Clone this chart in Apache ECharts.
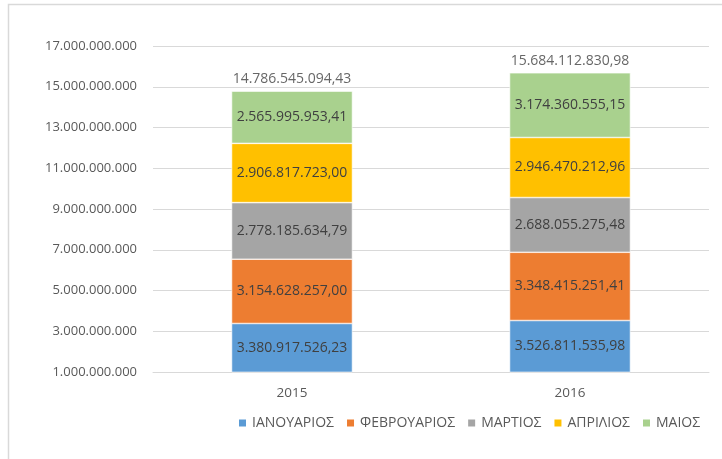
<!DOCTYPE html>
<html>
<head>
<meta charset="utf-8">
<script src="https://cdn.jsdelivr.net/npm/echarts@6/dist/echarts.min.js"></script>
<style>
    html, body { margin: 0; padding: 0; background: #fff; }
    #main { width: 722px; height: 459px; }
</style>
</head>
<body>
<div id="main"></div>
<script>
// δεδομένα
const years = ['2015', '2016']
const months = ['ΙΑΝΟΥΑΡΙΟΣ', 'ΦΕΒΡΟΥΑΡΙΟΣ', 'ΜΑΡΤΙΟΣ', 'ΑΠΡΙΛΙΟΣ', 'ΜΑΙΟΣ']
const ianouarios = [3380917526.23, 3526811535.98]
const fevrouarios = [3154628257.00, 3348415251.41]
const martios = [2778185634.79, 2688055275.48]
const aprilios = [2906817723.00, 2946470212.96]
const maios = [2565995953.41, 3174360555.15]
const colors = ['#5B9BD5', '#ED7D31', '#A5A5A5', '#FFC000', '#A9D18E']

const FONT = "'Open Sans', 'Liberation Sans', sans-serif"
const monthValues = [ianouarios, fevrouarios, martios, aprilios, maios]

function groupDigits(intStr) {
    return intStr.replace(/\B(?=(\d{3})+(?!\d))/g, '.')
}
// 1.234.567,89
function formatMoney(v) {
    const cents = Math.round(v * 100)
    const intPart = Math.floor(cents / 100)
    const dec = String(cents % 100).padStart(2, '0')
    return groupDigits(String(intPart)) + ',' + dec
}

// σύνολα ανά έτος (σε λεπτά για να μη χάνονται δεκαδικά)
const totals = years.map((y, i) => {
    const cents = monthValues.reduce((prev, arr) => prev + Math.round(arr[i] * 100), 0)
    return cents / 100
})

const chart = echarts.init(document.getElementById('main'))

const series = months.map((name, idx) => ({
    name,
    type: 'bar',
    stack: 'total',
    barWidth: '43.5%',
    data: monthValues[idx],
    itemStyle: {
        color: colors[idx],
        borderColor: '#ffffff',
        borderWidth: 0.6
    },
    label: {
        show: true,
        position: 'inside',
        color: '#404040',
        fontSize: 14,
        fontFamily: FONT,
        formatter: p => formatMoney(p.value)
    }
}))

// ετικέτα συνόλου πάνω από κάθε στήλη
series.push({
    name: 'ΣΥΝΟΛΟ',
    type: 'scatter',
    data: totals,
    symbol: 'rect',
    symbolSize: 0,
    silent: true,
    label: {
        show: true,
        position: 'top',
        distance: 5,
        color: '#404040',
        fontSize: 14,
        fontFamily: FONT,
        formatter: p => formatMoney(p.value)
    }
})

const option = {
    animation: false,
    backgroundColor: '#ffffff',
    textStyle: { fontFamily: FONT },
    graphic: [{
        type: 'rect',
        shape: { x: 8.5, y: 4.5, width: 800, height: 600 },
        style: { fill: 'none', stroke: '#D9D9D9', lineWidth: 1.5 },
        silent: true
    }],
    grid: {
        left: 153,
        right: 13,
        top: 46,
        bottom: 87
    },
    legend: {
        data: months,
        left: 237,
        top: 416,
        padding: 0,
        icon: 'rect',
        itemWidth: 9,
        itemHeight: 9,
        itemGap: 11,
        textStyle: {
            color: '#595959',
            fontSize: 14,
            fontFamily: FONT
        }
    },
    xAxis: {
        type: 'category',
        data: years,
        axisTick: { show: false },
        axisLine: { lineStyle: { color: '#D9D9D9', width: 1 } },
        axisLabel: {
            color: '#595959',
            fontSize: 13.5,
            fontFamily: FONT,
            margin: 14
        }
    },
    yAxis: {
        type: 'value',
        min: 1000000000,
        max: 17000000000,
        interval: 2000000000,
        axisLine: { show: false },
        axisTick: { show: false },
        splitLine: { lineStyle: { color: '#D9D9D9', width: 1 } },
        axisLabel: {
            color: '#595959',
            fontSize: 13,
            fontFamily: FONT,
            margin: 16,
            formatter: v => groupDigits(String(Math.round(v)))
        }
    },
    series
}

chart.setOption(option)
</script>
</body>
</html>
